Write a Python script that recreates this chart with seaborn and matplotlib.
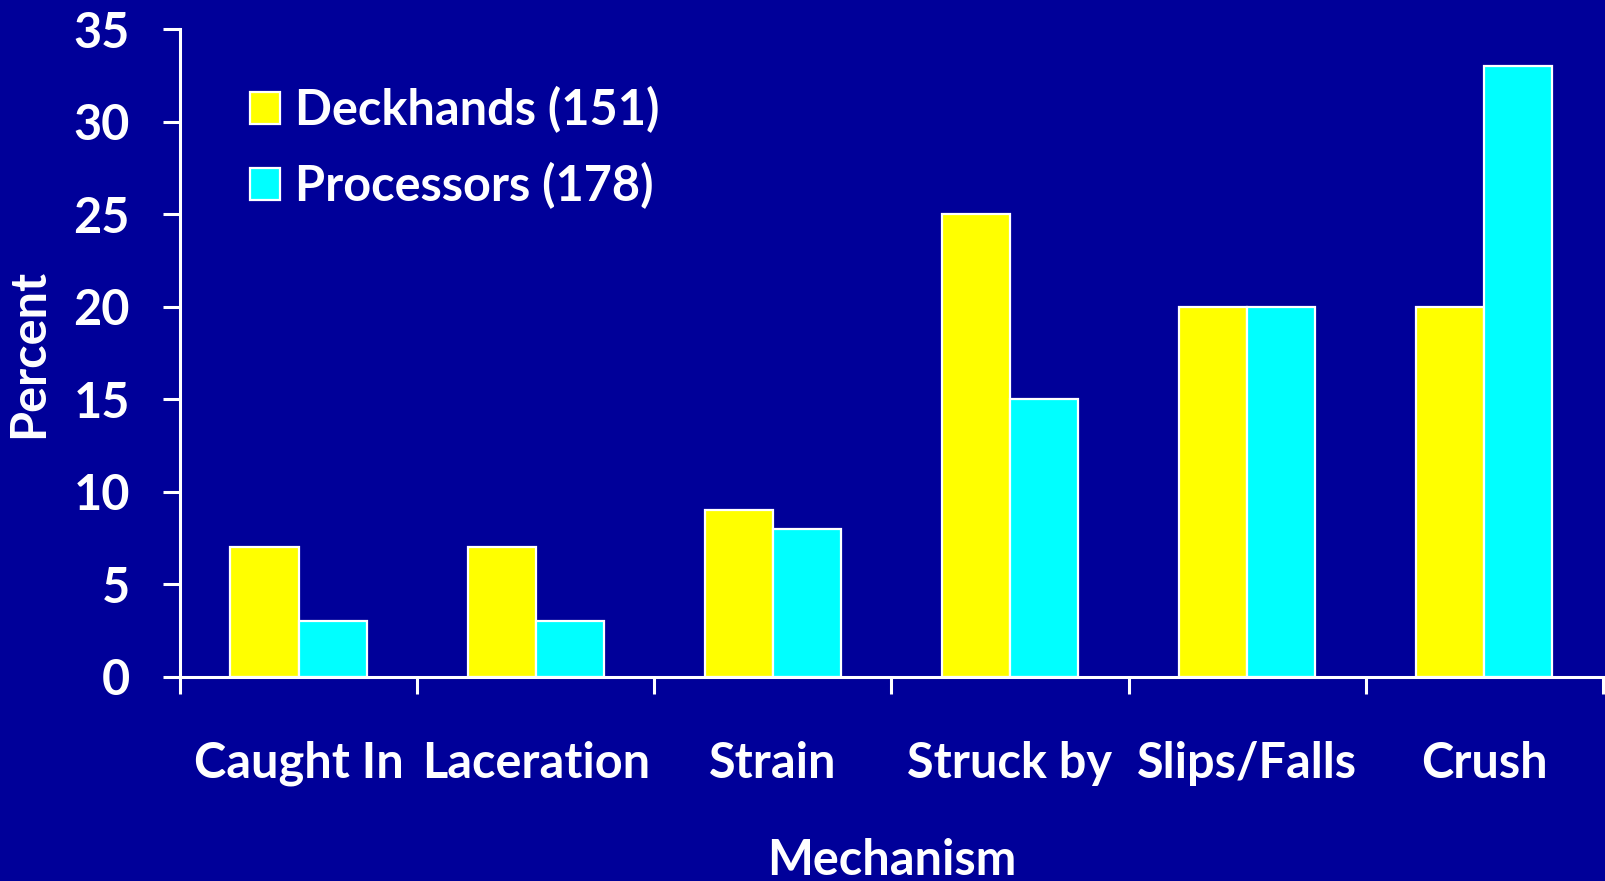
import numpy as np
import pandas as pd
import seaborn as sns
from matplotlib import pyplot as plt
from matplotlib.ticker import FixedLocator

# data
mechanisms = ['Caught In', 'Laceration', 'Strain', 'Struck by', 'Slips/Falls', 'Crush']
deckhands = [7, 7, 9, 25, 20, 20]
processors = [3, 3, 8, 15, 20, 33]
groups = ['Deckhands (151)', 'Processors (178)']
colors = ['#ffff00', '#00ffff']
bg = '#000099'
fs = 35

df = pd.DataFrame({
    'mechanism': mechanisms * 2,
    'group': [groups[0]] * len(mechanisms) + [groups[1]] * len(mechanisms),
    'percent': deckhands + processors,
})

sns.set_style('white')
plt.rcParams['font.family'] = ['Lato', 'DejaVu Sans']
plt.rcParams['font.weight'] = 'bold'

fig = plt.figure(figsize=(16.06, 8.81), dpi=100, facecolor=bg)
ax = fig.add_axes([0.1121, 0.2316, 0.998 - 0.1121, 0.967 - 0.2316])
ax.set_facecolor(bg)

sns.barplot(data=df, x='mechanism', y='percent', hue='group', palette=colors,
            width=0.575, edgecolor='white', linewidth=1.6, saturation=1, ax=ax)

ax.set_xlim(-0.5, 5.5)
ax.set_ylim(0, 35)
ax.set_yticks(range(0, 36, 5))
ax.xaxis.set_minor_locator(FixedLocator(np.arange(-0.5, 6, 1)))

for s in ['top', 'right']:
    ax.spines[s].set_visible(False)
for s in ['left', 'bottom']:
    ax.spines[s].set_color('white')
    ax.spines[s].set_linewidth(2.2)

ax.tick_params(axis='y', colors='white', labelsize=fs, length=12, width=2.2, pad=24, left=True)
ax.tick_params(axis='x', which='major', colors='white', labelsize=fs, length=0, pad=46)
ax.tick_params(axis='x', which='minor', colors='white', length=12, width=2.2, bottom=True)
for lab in ax.get_xticklabels() + ax.get_yticklabels():
    lab.set_fontweight('bold')

ax.set_xlabel('Mechanism', color='white', fontsize=fs, fontweight='bold', labelpad=37)
ax.set_ylabel('Percent', color='white', fontsize=fs, fontweight='bold', labelpad=16)

leg = ax.legend(loc='upper left', bbox_to_anchor=(250 / 1606, 1 - 86 / 881),
                bbox_transform=fig.transFigure, frameon=False,
                handlelength=0.62, handleheight=0.62, handletextpad=0.3,
                labelspacing=0.6, borderpad=0, borderaxespad=0,
                prop={'weight': 'bold', 'size': fs})
for t in leg.get_texts():
    t.set_color('white')
for h in leg.legend_handles:
    h.set_edgecolor('white')
    h.set_linewidth(1.6)

fig.savefig('out.png', dpi=100, facecolor=bg)
